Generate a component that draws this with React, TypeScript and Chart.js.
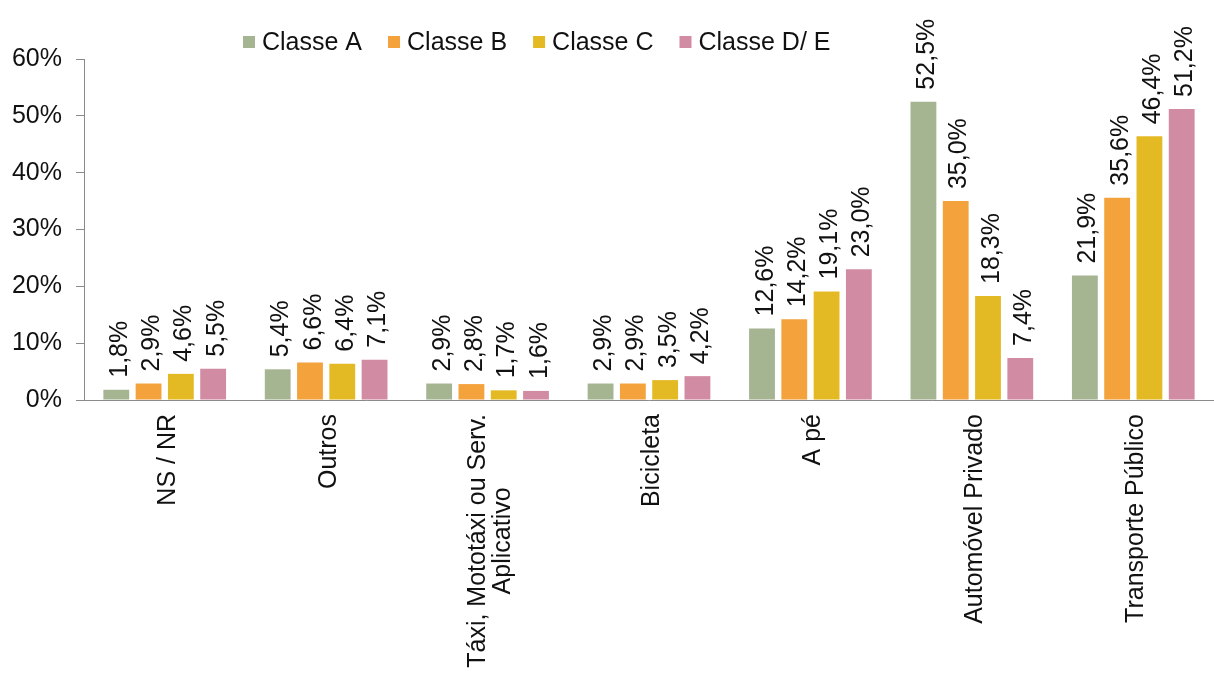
import { useEffect, useRef } from 'react';
import { Chart, registerables } from 'chart.js';

Chart.register(...registerables);

// Modal share by income class
const categories: string[][] = [
  ['NS / NR'],
  ['Outros'],
  ['Táxi, Mototáxi ou Serv.', 'Aplicativo'],
  ['Bicicleta'],
  ['A pé'],
  ['Automóvel Privado'],
  ['Transporte Público'],
];

const seriesNames = ['Classe A', 'Classe B', 'Classe C', 'Classe D/ E'];
const seriesColors = ['#a5b491', '#f4a23c', '#e4ba24', '#d18ba3'];

const classeA = [1.8, 5.4, 2.9, 2.9, 12.6, 52.5, 21.9];
const classeB = [2.9, 6.6, 2.8, 2.9, 14.2, 35.0, 35.6];
const classeC = [4.6, 6.4, 1.7, 3.5, 19.1, 18.3, 46.4];
const classeDE = [5.5, 7.1, 1.6, 4.2, 23.0, 7.4, 51.2];

const yMin = 0;
const yMax = 60;
const yStep = 10;

const FONT_FAMILY = '"Liberation Sans", Arial, Helvetica, sans-serif';
const FONT = `25px ${FONT_FAMILY}`;
const TEXT_COLOR = '#111111';
const AXIS_COLOR = '#8a8a8a';

const formatPct = (v: number) => `${v.toFixed(1).replace('.', ',')}%`;

// Rotated value labels above every bar
const valueLabels = {
  id: 'valueLabels',
  afterDatasetsDraw(chart: any) {
    const ctx = chart.ctx;
    ctx.save();
    ctx.font = FONT;
    ctx.fillStyle = TEXT_COLOR;
    ctx.textAlign = 'left';
    ctx.textBaseline = 'alphabetic';
    chart.data.datasets.forEach((ds: any, di: number) => {
      const meta = chart.getDatasetMeta(di);
      meta.data.forEach((bar: any, i: number) => {
        ctx.save();
        ctx.translate(bar.x + 10.5, bar.y - 12);
        ctx.rotate(-Math.PI / 2);
        ctx.fillText(formatPct(ds.data[i]), 0, 0);
        ctx.restore();
      });
    });
    ctx.restore();
  },
};

// Vertical category names under the x axis, lines centred on each other
const categoryLabels = {
  id: 'categoryLabels',
  afterDraw(chart: any) {
    const ctx = chart.ctx;
    const xScale = chart.scales.x;
    const lineHeight = 24.5;
    ctx.save();
    ctx.font = FONT;
    ctx.fillStyle = TEXT_COLOR;
    ctx.textAlign = 'center';
    ctx.textBaseline = 'alphabetic';
    categories.forEach((lines, i) => {
      const maxW = Math.max(...lines.map((l) => ctx.measureText(l).width));
      const cx = xScale.getPixelForTick(i);
      const cy = chart.chartArea.bottom + 14 + maxW / 2;
      ctx.save();
      ctx.translate(cx, cy);
      ctx.rotate(-Math.PI / 2);
      const n = lines.length;
      lines.forEach((line, j) => {
        ctx.fillText(line, 0, 10 + (j - (n - 1) / 2) * lineHeight);
      });
      ctx.restore();
    });
    ctx.restore();
  },
};

// Legend row: square swatch followed by the series name
const legendRow = {
  id: 'legendRow',
  afterDraw(chart: any) {
    const ctx = chart.ctx;
    ctx.save();
    ctx.font = FONT;
    ctx.textAlign = 'left';
    ctx.textBaseline = 'alphabetic';
    let x = 243;
    chart.data.datasets.forEach((ds: any) => {
      ctx.fillStyle = ds.backgroundColor;
      ctx.fillRect(x, 36, 12, 12);
      ctx.fillStyle = TEXT_COLOR;
      ctx.fillText(ds.label, x + 19, 50);
      x += 19 + ctx.measureText(ds.label).width + 26;
    });
    ctx.restore();
  },
};

export default function App() {
  const canvasRef = useRef<HTMLCanvasElement | null>(null);

  useEffect(() => {
    document.body.style.margin = '0';
    const canvas = canvasRef.current;
    if (!canvas) return;
    const seriesValues = [classeA, classeB, classeC, classeDE];
    const chart = new Chart(canvas, {
      type: 'bar',
      data: {
        labels: categories,
        datasets: seriesValues.map((values, i) => ({
          label: seriesNames[i],
          data: values,
          backgroundColor: seriesColors[i],
          borderWidth: 0,
          categoryPercentage: 0.8,
          barPercentage: 0.8,
        })),
      },
      options: {
        responsive: false,
        animation: false,
        layout: { padding: { top: 59, left: 0, right: 0, bottom: 0 } },
        plugins: {
          legend: { display: false },
          tooltip: { enabled: false },
          title: { display: false },
        },
        scales: {
          x: {
            grid: { display: false },
            border: { display: true, color: AXIS_COLOR, width: 1 },
            ticks: { display: false },
            afterFit(scale: any) {
              scale.height = 273;
            },
          },
          y: {
            min: yMin,
            max: yMax,
            grid: {
              drawOnChartArea: false,
              drawTicks: true,
              tickLength: 8,
              color: AXIS_COLOR,
            },
            border: { display: true, color: AXIS_COLOR, width: 1 },
            ticks: {
              stepSize: yStep,
              padding: 14,
              color: TEXT_COLOR,
              font: { family: FONT_FAMILY, size: 25 },
              callback: (v: any) => `${v}%`,
            },
            afterFit(scale: any) {
              scale.width = 84;
            },
          },
        },
      },
      plugins: [valueLabels, categoryLabels, legendRow],
    });
    return () => chart.destroy();
  }, []);

  return (
    <div style={{ width: 1214, height: 673 }}>
      <canvas ref={canvasRef} width={1214} height={673} />
    </div>
  );
}
